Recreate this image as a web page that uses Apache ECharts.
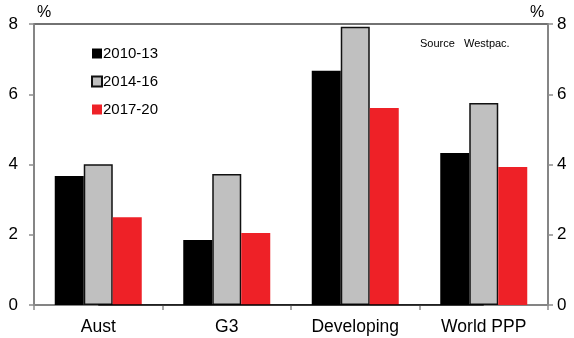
<!DOCTYPE html>
<html>
<head>
<meta charset="utf-8">
<script src="https://cdn.jsdelivr.net/npm/echarts@6/dist/echarts.min.js"></script>
<style>
  html, body { margin: 0; padding: 0; background: #fff; }
  #chart { width: 574px; height: 338px; }
</style>
</head>
<body>
<div id="chart"></div>
<script>
// Average growth by region and period, %
const categories = ['Aust', 'G3', 'Developing', 'World PPP'];
const periodNames = ['2010-13', '2014-16', '2017-20'];
const growth2010 = [3.67, 1.85, 6.67, 4.33];
const growth2014 = [4.01, 3.73, 7.92, 5.75];
const growth2017 = [2.50, 2.05, 5.61, 3.93];
const zeroLine = [0, 0, 0, 0];
const yTicks = [0, 2, 4, 6, 8];

const font = 'Liberation Sans, Arial, sans-serif';
const chart = echarts.init(document.getElementById('chart'), null, { renderer: 'canvas' });

const yAxisBase = {
  type: 'value',
  min: yTicks[0],
  max: yTicks[yTicks.length - 1],
  interval: yTicks[1] - yTicks[0],
  axisLine: { show: true, lineStyle: { color: '#8c8c8c', width: 1.5 } },
  axisTick: { show: true, length: 5, lineStyle: { color: '#8c8c8c', width: 1.5 } },
  splitLine: { show: false },
  axisLabel: { color: '#000', fontSize: 17, fontFamily: font }
};

chart.setOption({
  animation: false,
  grid: {
    left: 34, right: 26, top: 24, bottom: 33,
    show: true, borderColor: '#444', borderWidth: 1.5, backgroundColor: 'transparent'
  },
  legend: {
    data: periodNames,
    orient: 'vertical',
    left: 86, top: 41,
    itemWidth: 10, itemHeight: 10, itemGap: 13,
    icon: 'rect',
    textStyle: { color: '#000', fontSize: 15, fontFamily: font, padding: [0, 0, 0, -4] }
  },
  xAxis: {
    type: 'category',
    data: categories,
    axisLine: { show: true, lineStyle: { color: '#8c8c8c', width: 1.5 } },
    axisTick: { show: true, length: 5, lineStyle: { color: '#8c8c8c', width: 1.5 } },
    axisLabel: { color: '#000', fontSize: 17.5, fontFamily: font, margin: 13 }
  },
  yAxis: [
    Object.assign({}, yAxisBase, { position: 'left', axisLabel: Object.assign({}, yAxisBase.axisLabel, { margin: 16 }) }),
    Object.assign({}, yAxisBase, { position: 'right', axisLabel: Object.assign({}, yAxisBase.axisLabel, { margin: 9 }) })
  ],
  graphic: [
    { type: 'text', left: 37, top: 5, style: { text: '%', fontSize: 16, fontFamily: font, fill: '#000' } },
    { type: 'text', left: 530, top: 5, style: { text: '%', fontSize: 16, fontFamily: font, fill: '#000' } },
    { type: 'text', left: 420, top: 38, style: { text: 'Source   Westpac.', fontSize: 11, fontFamily: font, fill: '#000' } }
  ],
  series: [
    {
      name: periodNames[0], type: 'bar', data: growth2010,
      barWidth: 29, barGap: '0%',
      itemStyle: { color: '#000000' }
    },
    {
      name: periodNames[1], type: 'bar', data: growth2014,
      barWidth: 29, barGap: '0%',
      itemStyle: { color: '#c0c0c0', borderColor: '#111', borderWidth: 1.5 }
    },
    {
      name: periodNames[2], type: 'bar', data: growth2017,
      barWidth: 29, barGap: '0%',
      itemStyle: { color: '#ee2127' }
    },
    {
      name: 'zero', type: 'line', data: zeroLine,
      symbol: 'none', z: 5,
      lineStyle: { color: '#000', width: 1.5 }
    }
  ]
});
</script>
</body>
</html>
